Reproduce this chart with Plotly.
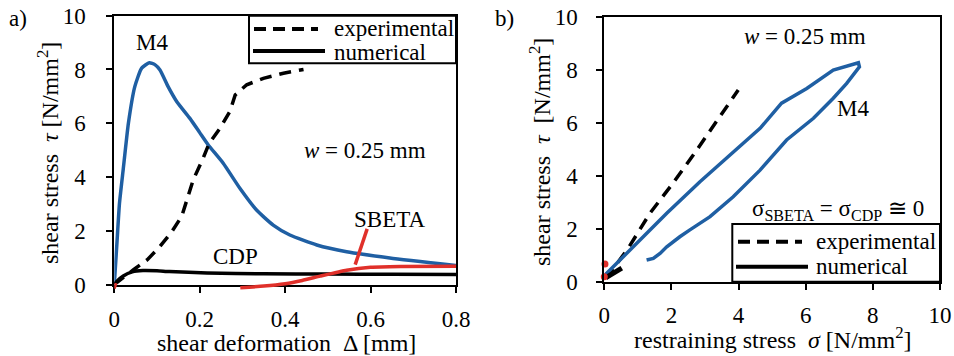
import plotly.graph_objects as go

# ---------------- data: panel a) shear stress vs shear deformation ----------------
m4_a_x = [0, 0.006, 0.012, 0.021, 0.033, 0.048, 0.064, 0.082, 0.095, 0.107, 0.126, 0.146,
          0.177, 0.2, 0.22, 0.255, 0.294, 0.333, 0.372, 0.411, 0.474, 0.544, 0.645, 0.8]
m4_a_y = [0, 1.5, 3.0, 4.3, 6.0, 7.36, 8.05, 8.25, 8.18, 7.98, 7.36, 6.81,
          6.18, 5.65, 5.19, 4.51, 3.58, 2.77, 2.21, 1.84, 1.47, 1.22, 0.99, 0.71]

exp_a_x = [0, 0.02, 0.045, 0.078, 0.107, 0.134, 0.158, 0.173, 0.185, 0.208, 0.222, 0.247,
           0.271, 0.283, 0.31, 0.349, 0.396, 0.443]
exp_a_y = [0, 0.25, 0.55, 0.93, 1.42, 1.95, 2.54, 3.3, 3.9, 4.7, 5.25, 5.8,
           6.45, 7.05, 7.43, 7.67, 7.86, 8.0]

cdp_a_x = [0, 0.008, 0.021, 0.042, 0.067, 0.1, 0.129, 0.217, 0.35, 0.5, 0.65, 0.8]
cdp_a_y = [0, 0.15, 0.32, 0.47, 0.52, 0.51, 0.48, 0.43, 0.40, 0.39, 0.38, 0.37]

sbeta_a_x = [0.295, 0.35, 0.40, 0.44, 0.482, 0.544, 0.60, 0.67, 0.8]
sbeta_a_y = [-0.12, -0.06, 0.03, 0.15, 0.31, 0.53, 0.64, 0.67, 0.68]
sbeta_a0_x = [0, 0.004]
sbeta_a0_y = [-0.15, 0.05]

sbeta_leader_x = [0.592, 0.564]
sbeta_leader_y = [2.07, 0.74]

# ---------------- data: panel b) shear stress vs restraining stress ----------------
m4_b_x = [0.02, 0.86, 1.86, 2.85, 3.84, 4.64, 5.28, 6.03, 6.82, 7.57, 7.6,
          7.22, 6.82, 6.23, 5.43, 4.64, 3.84, 3.15, 2.55, 2.25, 1.86, 1.66, 1.46, 1.26]
m4_b_y = [0.25, 1.32, 2.59, 3.78, 4.92, 5.8, 6.75, 7.31, 8.0, 8.28, 8.13,
          7.5, 6.94, 6.18, 5.36, 4.22, 3.21, 2.46, 1.96, 1.7, 1.32, 1.07, 0.88, 0.82]

exp_b_x = [0.05, 0.37, 0.71, 1.36, 2.0, 2.65, 3.3, 3.99]
exp_b_y = [0.12, 0.7, 1.26, 2.59, 3.65, 4.79, 6.0, 7.25]

cdp_b_x = [0.05, 0.2, 0.35, 0.52]
cdp_b_y = [0.15, 0.27, 0.39, 0.51]

sbeta_b_x = [0.02, 0.0]
sbeta_b_y = [0.67, 0.19]

a_ticks = [0, 0.2, 0.4, 0.6, 0.8]
a_ticktext = ["0", "0.2", "0.4", "0.6", "0.8"]
stress_ticks = [0, 2, 4, 6, 8, 10]

BLUE = "#1f5fa3"
RED = "#e0302a"
FONT = "Liberation Serif, Times New Roman, Times, DejaVu Serif, serif"
FS = 23

W, H = 954, 356


def PX(p):
    return p / W


def PY(p):
    return 1 - p / H


fig = go.Figure()

# panel a
fig.add_trace(go.Scatter(x=m4_a_x, y=m4_a_y, mode="lines", line=dict(color=BLUE, width=3.5, shape="spline", smoothing=0.5), xaxis="x", yaxis="y", showlegend=False))
fig.add_trace(go.Scatter(x=exp_a_x, y=exp_a_y, mode="lines", line=dict(color="black", width=3.5, dash="12px,8px"), xaxis="x", yaxis="y", showlegend=False))
fig.add_trace(go.Scatter(x=cdp_a_x, y=cdp_a_y, mode="lines", line=dict(color="black", width=3.5, shape="spline", smoothing=0.5), xaxis="x", yaxis="y", showlegend=False))
fig.add_trace(go.Scatter(x=sbeta_a_x, y=sbeta_a_y, mode="lines", line=dict(color=RED, width=3.5, shape="spline", smoothing=0.5), xaxis="x3", yaxis="y3", showlegend=False))
fig.add_trace(go.Scatter(x=sbeta_a0_x, y=sbeta_a0_y, mode="lines", line=dict(color=RED, width=3), xaxis="x3", yaxis="y3", showlegend=False))
fig.add_trace(go.Scatter(x=sbeta_leader_x, y=sbeta_leader_y, mode="lines", line=dict(color=RED, width=3.5), xaxis="x", yaxis="y", showlegend=False))

# panel b
fig.add_trace(go.Scatter(x=exp_b_x, y=exp_b_y, mode="lines", line=dict(color="black", width=3.5, dash="12px,8px"), xaxis="x2", yaxis="y2", showlegend=False))
fig.add_trace(go.Scatter(x=m4_b_x, y=m4_b_y, mode="lines", line=dict(color=BLUE, width=3.5), xaxis="x2", yaxis="y2", showlegend=False))
fig.add_trace(go.Scatter(x=cdp_b_x, y=cdp_b_y, mode="lines", line=dict(color="black", width=5), xaxis="x2", yaxis="y2", showlegend=False))
fig.add_trace(go.Scatter(x=sbeta_b_x, y=sbeta_b_y, mode="markers", marker=dict(color=RED, size=7), cliponaxis=False, xaxis="x2", yaxis="y2", showlegend=False))

axis_common = dict(showline=True, linecolor="black", linewidth=2, mirror=True, ticks="outside",
                   ticklen=6, tickwidth=2, tickcolor="black", showgrid=False, zeroline=False,
                   automargin=False, ticklabeloverflow="allow",
                   tickfont=dict(family=FONT, size=FS, color="black"))

fig.update_layout(
    width=W, height=H,
    margin=dict(l=0, r=0, t=0, b=0, autoexpand=False),
    paper_bgcolor="white", plot_bgcolor="rgba(0,0,0,0)",
    font=dict(family=FONT, size=FS, color="black"),
    xaxis=dict(domain=[PX(114.3), PX(456)], range=[0, 0.8], tickvals=a_ticks, ticktext=a_ticktext,
               anchor="y", ticklabelstandoff=7, **axis_common),
    yaxis=dict(domain=[PY(284.5), PY(15.7)], range=[0, 10], tickvals=stress_ticks,
               anchor="x", ticklabelstandoff=16, **axis_common),
    xaxis2=dict(domain=[PX(604.3), PX(940)], range=[0, 10], tickvals=stress_ticks,
                anchor="y2", ticklabelstandoff=6, **axis_common),
    yaxis2=dict(domain=[PY(281.7), PY(17.3)], range=[0, 10], tickvals=stress_ticks,
                anchor="x2", ticklabelstandoff=14, **axis_common),
    xaxis3=dict(domain=[PX(114.3), PX(456)], range=[0, 0.8], anchor="y3", visible=False, automargin=False),
    yaxis3=dict(domain=[PY(294.5), PY(15.7)], range=[-10 / 26.88, 10], anchor="x3", visible=False, automargin=False),
)

ann = []


def text(x, y, s, xanchor="center", yanchor="middle", xref="paper", yref="paper", size=FS, angle=0):
    ann.append(dict(x=x, y=y, text=s, xref=xref, yref=yref, xanchor=xanchor, yanchor=yanchor,
                    showarrow=False, textangle=angle, font=dict(family=FONT, size=size, color="black")))


# panel labels
text(PX(18), PY(19), "a)")
text(PX(505), PY(19), "b)")
# axis titles
text(PX(48), PY(153), "shear stress  <i>τ</i> [N/mm<sup>2</sup>]", angle=-90, size=24)
text(PX(286), PY(343), "shear deformation  Δ [mm]", size=24)
text(PX(540), PY(152), "shear stress  <i>τ</i>  [N/mm<sup>2</sup>]", angle=-90, size=24)
text(PX(773), PY(338), "restraining stress  <i>σ</i> [N/mm<sup>2</sup>]", size=24)
# in-plot labels panel a
text(0.0876, 9.0, "M4", xref="x", yref="y")
text(0.283, 1.05, "CDP", xref="x", yref="y")
text(0.645, 2.41, "SBETA", xref="x", yref="y")
text(0.588, 4.99, "<i>w</i> = 0.25 mm", xref="x", yref="y")
# in-plot labels panel b
text(5.98, 9.27, "<i>w</i> = 0.25 mm", xref="x2", yref="y2")
text(7.42, 6.56, "M4", xref="x2", yref="y2")
text(PX(926), PY(210), "σ<sub>SBETA</sub> = σ<sub>CDP</sub> ≅ 0", xanchor="right")
# legends
text(PX(332), PY(28.5), "experimental", xanchor="left")
text(PX(332), PY(53), "numerical", xanchor="left")
text(PX(814), PY(241.5), "experimental", xanchor="left")
text(PX(814), PY(266.5), "numerical", xanchor="left")

fig.update_layout(annotations=ann)

shapes = []
# legend boxes
shapes.append(dict(type="rect", xref="paper", yref="paper", x0=PX(249), x1=PX(456), y0=PY(63.3), y1=PY(15.7),
                   line=dict(color="black", width=2), fillcolor="white", layer="above"))
shapes.append(dict(type="rect", xref="paper", yref="paper", x0=PX(732.3), x1=PX(940), y0=PY(281.7), y1=PY(224),
                   line=dict(color="black", width=2), fillcolor="white", layer="above"))
# legend samples
shapes.append(dict(type="line", xref="paper", yref="paper", x0=PX(254), x1=PX(318), y0=PY(29), y1=PY(29),
                   line=dict(color="black", width=4, dash="12px,7px")))
shapes.append(dict(type="line", xref="paper", yref="paper", x0=PX(253), x1=PX(325), y0=PY(51), y1=PY(51),
                   line=dict(color="black", width=4)))
shapes.append(dict(type="line", xref="paper", yref="paper", x0=PX(738), x1=PX(802), y0=PY(241.7), y1=PY(241.7),
                   line=dict(color="black", width=4, dash="12px,7px")))
shapes.append(dict(type="line", xref="paper", yref="paper", x0=PX(736), x1=PX(808), y0=PY(266.7), y1=PY(266.7),
                   line=dict(color="black", width=4)))
fig.update_layout(shapes=shapes)

fig.write_html("out.html", config={"displayModeBar": False},
               post_script="document.body.style.margin='0px';document.body.style.overflow='hidden';")
